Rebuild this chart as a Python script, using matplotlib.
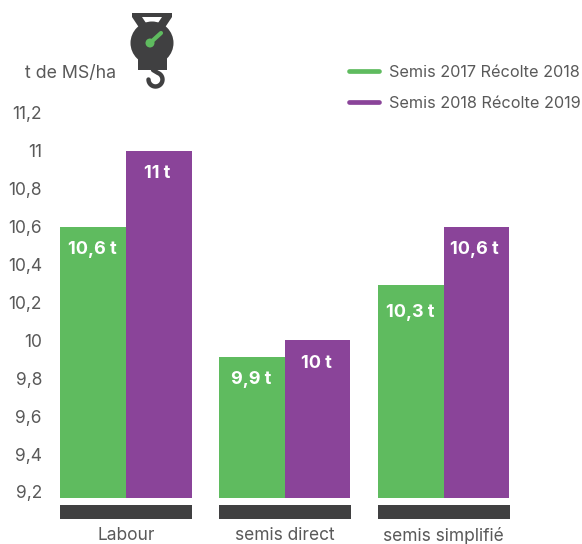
import matplotlib
matplotlib.use("Agg")
import matplotlib.pyplot as plt
from matplotlib.patches import Circle, Polygon, Rectangle
from matplotlib.lines import Line2D
import numpy as np

plt.rcParams['font.family'] = ['Inter', 'DejaVu Sans']

categories = ['Labour', 'semis direct', 'semis simplifié']
series_names = ['Semis 2017 Récolte 2018', 'Semis 2018 Récolte 2019']
green_vals = [10.6, 9.91, 10.29]
purple_vals = [11.0, 10.0, 10.6]
green_labels = ['10,6 t', '9,9 t', '10,3 t']
purple_labels = ['11 t', '10 t', '10,6 t']
green_offset = [0.12, 0.115, 0.145]
yticks = [9.2, 9.4, 9.6, 9.8, 10, 10.2, 10.4, 10.6, 10.8, 11, 11.2]
ylabels = ['9,2', '9,4', '9,6', '9,8', '10', '10,2', '10,4', '10,6', '10,8', '11', '11,2']

GREEN = '#5fbb5f'
PURPLE = '#8a4499'
DARK = '#404041'
TEXT = '#595959'
W, H = 582, 544

fig = plt.figure(figsize=(W / 100, H / 100), dpi=100)
ax = fig.add_axes([60 / W, 1 - 498 / H, 450 / W, 385 / H])

unit = 158.8  # pixels between groups
x = np.arange(len(categories))
w_green = 66 / unit
w_purple = 65.6 / unit
base = 9.168
ax.bar(x - w_green, np.array(green_vals) - base, w_green, bottom=base, align='edge', color=GREEN)
ax.bar(x, np.array(purple_vals) - base, w_purple, bottom=base, align='edge', color=PURPLE)
# dark strip under each group
ax.bar(x, 0.074, w_green * 2, bottom=base - 0.11, color=DARK, clip_on=False)

for i in x:
    ax.text(i - w_green / 2 - 0.003, green_vals[i] - green_offset[i], green_labels[i], color='white',
            fontsize=13, fontweight='bold', ha='center', va='center')
    ax.text(i + w_purple / 2 - 0.01, purple_vals[i] - 0.12, purple_labels[i], color='white',
            fontsize=13, fontweight='bold', ha='center', va='center')

ax.set_xlim(-w_green, -w_green + 450 / unit)
ax.set_ylim(base, 11.2)
ax.set_yticks(yticks)
ax.set_yticklabels(ylabels, color=TEXT, fontsize=12.5)
ax.set_xticks(x)
ax.set_xticklabels(categories, color=TEXT, fontsize=12.5)
ax.tick_params(axis='y', length=0, pad=13)
ax.tick_params(axis='x', length=0, pad=21)
for s in ax.spines.values():
    s.set_visible(False)

fig.text(25 / W, 1 - 73 / H, 't de MS/ha', color=TEXT, fontsize=12.8, va='center')

handles = [Line2D([], [], color=GREEN, lw=3.4, solid_capstyle='round'),
           Line2D([], [], color=PURPLE, lw=3.4, solid_capstyle='round')]
fig.legend(handles, series_names, loc='upper right', bbox_to_anchor=(595 / W, 1 - 50 / H),
           frameon=False, fontsize=11.7, labelcolor=TEXT, handlelength=1.85, handletextpad=0.6,
           labelspacing=1.0)

# scale icon, drawn in pixel coordinates
ic = fig.add_axes([0, 0, 1, 1])
ic.set_xlim(0, W)
ic.set_ylim(H, 0)
ic.axis('off')
ic.patch.set_alpha(0)
ic.add_patch(Polygon([[132, 13], [172, 13], [172, 17], [164, 29], [140, 29], [132, 17]], closed=True,
                     fc=DARK, ec='none'))
ic.add_patch(Polygon([[142, 17], [162, 17], [158, 23], [146, 23]], closed=True, fc='white', ec='none'))
ic.add_patch(Circle((152, 43), 21.5, fc=DARK, ec='none'))
ic.add_patch(Rectangle((138, 50), 29, 20, fc=DARK, ec='none'))
t = np.radians(np.arange(180, -71, -10))
hook_x = 155.5 + 7 * np.cos(t)
hook_y = 79.5 + 7 * np.sin(t)
ic.add_line(Line2D(np.append(hook_x, 153), np.append(hook_y, 70), color=DARK, lw=3.2,
                   solid_capstyle='round'))
ic.add_line(Line2D([150, 161], [43, 33], color=GREEN, lw=3, solid_capstyle='round'))
ic.add_patch(Circle((150, 43), 4.5, fc=GREEN, ec='none'))

fig.savefig('out.png', dpi=100)
